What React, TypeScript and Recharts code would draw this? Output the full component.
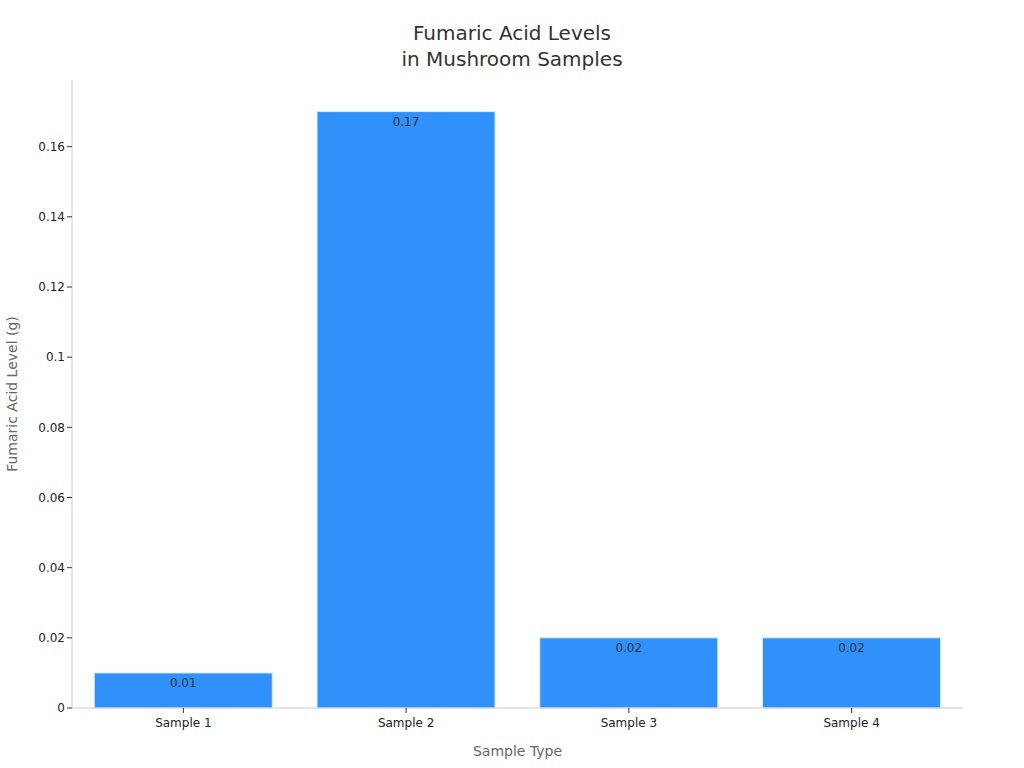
import React from 'react';
import { BarChart, Bar, XAxis, YAxis, LabelList } from 'recharts';

const categories = ['Sample 1', 'Sample 2', 'Sample 3', 'Sample 4'];
const levels = [0.01, 0.17, 0.02, 0.02];
const yTicks = [0, 0.02, 0.04, 0.06, 0.08, 0.1, 0.12, 0.14, 0.16];

const data = categories.map((name, i) => ({ name, value: levels[i] }));

const FONT = 'DejaVu Sans, sans-serif';

export default function App() {
  return (
    <div style={{ position: 'absolute', left: 0, top: 0, width: 1024, height: 768, background: '#fff', fontFamily: FONT }}>
      <div style={{ position: 'absolute', left: 0, top: 20, width: 1024, textAlign: 'center', fontSize: 20, lineHeight: '26px', color: '#333' }}>
        Fumaric Acid Levels
        <br />
        in Mushroom Samples
      </div>
      <BarChart
        width={1024}
        height={768}
        data={data}
        margin={{ top: 80, right: 61, bottom: 0, left: 1 }}
        barCategoryGap="10%"
        style={{ fontFamily: FONT }}
      >
        <XAxis
          dataKey="name"
          stroke="#ccc"
          tick={{ fill: '#222', fontSize: 12, dy: 3 }}
          tickLine={{ stroke: '#333' }}
          tickSize={5}
          height={60}
          label={{ value: 'Sample Type', position: 'insideBottom', offset: 12, fill: '#666', fontSize: 14 }}
        />
        <YAxis
          type="number"
          domain={[0, 0.179]}
          ticks={yTicks}
          width={71}
          stroke="#ccc"
          tick={{ fill: '#222', fontSize: 12 }}
          tickLine={{ stroke: '#333' }}
          tickSize={5}
          tickFormatter={(v: number) => String(v)}
          label={{ value: 'Fumaric Acid Level (g)', angle: -90, position: 'insideLeft', offset: 11, fill: '#666', fontSize: 14, style: { textAnchor: 'middle' } }}
        />
        <Bar dataKey="value" fill="#2F91F9" stroke="#D6EAFF" strokeWidth={1} isAnimationActive={false}>
          <LabelList dataKey="value" position="insideTop" offset={6} fill="#333" fontSize={12} />
        </Bar>
      </BarChart>
    </div>
  );
}
